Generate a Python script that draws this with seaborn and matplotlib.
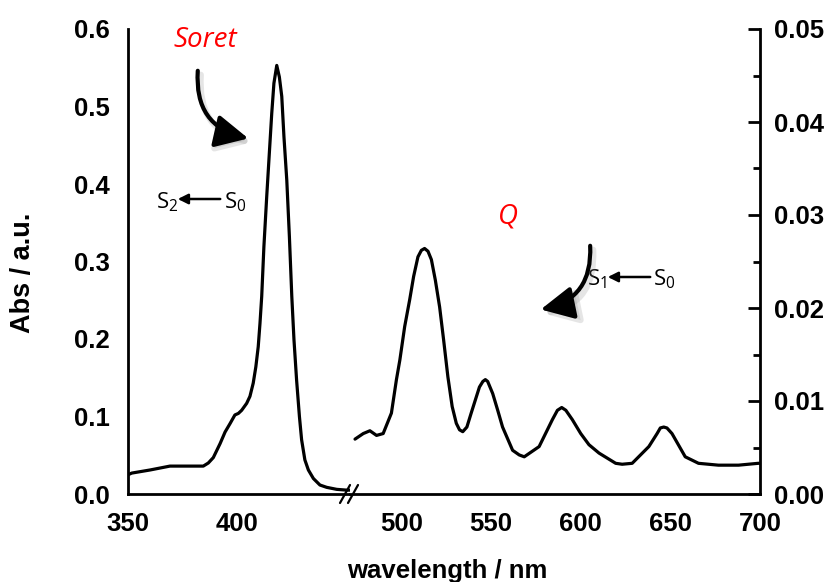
import numpy as np
import pandas as pd
import matplotlib
matplotlib.use("Agg")
import matplotlib.pyplot as plt
import seaborn as sns
from matplotlib.patches import FancyArrowPatch

# ---------------- data ----------------
# Soret region (left axis, Abs)
wl_soret = [350.0, 351.6, 360.0, 369.1, 384.4, 386.7, 389.0, 392.1, 394.4, 396.7,
            398.9, 400.5, 402.0, 404.3, 405.8, 407.3, 408.5, 409.6, 410.4, 411.2,
            412.2, 413.5, 414.7, 415.8, 416.8, 418.1, 419.3, 420.4, 421.4, 422.7,
            423.9, 425.0, 426.0, 427.2, 428.5, 429.5, 431.0, 432.6, 434.9, 437.9,
            441.0, 445.6, 450.2, 451.7]
abs_soret = [0.025, 0.027, 0.031, 0.036, 0.036, 0.040, 0.047, 0.065, 0.080, 0.091,
             0.102, 0.104, 0.108, 0.117, 0.126, 0.143, 0.164, 0.190, 0.220, 0.255,
             0.319, 0.384, 0.440, 0.491, 0.530, 0.553, 0.538, 0.513, 0.461, 0.405,
             0.332, 0.255, 0.199, 0.147, 0.100, 0.070, 0.044, 0.031, 0.020, 0.0116,
             0.0086, 0.006, 0.005, 0.005]

# Q-band region (right axis, Abs)
wl_q = [474.1, 478.7, 482.4, 486.1, 489.8, 494.4, 497.2, 499.1, 501.8, 504.6,
        506.8, 509.2, 511.1, 512.9, 514.8, 516.7, 518.9, 521.3, 523.5, 525.9,
        528.3, 530.6, 532.4, 534.2, 536.5, 538.9, 543.5, 545.4, 546.8, 548.1,
        550.9, 553.7, 556.4, 562.0, 565.7, 568.5, 576.8, 584.2, 587.0, 589.4,
        591.7, 595.3, 600.0, 604.6, 610.2, 619.5, 623.1, 628.7, 638.0, 642.6,
        644.4, 646.3, 648.1, 650.9, 658.3, 665.7, 676.8, 688.0, 699.0, 700.0]
abs_q = [0.0059, 0.0065, 0.0068, 0.0063, 0.0065, 0.0087, 0.0123, 0.0144, 0.0180, 0.0209,
         0.0234, 0.0255, 0.0262, 0.0264, 0.0261, 0.0252, 0.0230, 0.0201, 0.0166, 0.0126,
         0.0094, 0.0076, 0.0069, 0.0067, 0.0072, 0.0087, 0.0115, 0.0121, 0.0123, 0.0121,
         0.0108, 0.0090, 0.0072, 0.0047, 0.0042, 0.0040, 0.0051, 0.0080, 0.0090, 0.0093,
         0.0090, 0.0080, 0.0065, 0.0053, 0.0044, 0.0033, 0.0032, 0.0033, 0.0051, 0.0065,
         0.0071, 0.0072, 0.0071, 0.0065, 0.0040, 0.0033, 0.0031, 0.0031, 0.0033, 0.0033]

left_xticks = [350, 400]
left_xminor = [375, 425]
right_xticks = [500, 550, 600, 650, 700]
right_xminor = [525, 575, 625, 675]
left_yticks = [0.0, 0.1, 0.2, 0.3, 0.4, 0.5, 0.6]
left_yminor = [0.05, 0.15, 0.25, 0.35, 0.45, 0.55]
right_yticks = [0.00, 0.01, 0.02, 0.03, 0.04, 0.05]
right_yminor = [0.005, 0.015, 0.025, 0.035, 0.045]

# ---------------- style ----------------
sns.set_style("white")
plt.rcParams['font.family'] = ['Liberation Sans', 'DejaVu Sans']
plt.rcParams['text.color'] = 'black'
plt.rcParams['xtick.color'] = 'black'
plt.rcParams['ytick.color'] = 'black'
plt.rcParams['axes.labelcolor'] = 'black'
plt.rcParams['mathtext.fontset'] = 'custom'
plt.rcParams['mathtext.rm'] = 'Open Sans'
plt.rcParams['mathtext.it'] = 'Open Sans:italic'

W, H = 829, 582
fig = plt.figure(figsize=(W / 100, H / 100), dpi=100)

x0, xb, x1 = 128.3, 350.0, 760.0
ytop, ybot = 29.0, 494.0
axL = fig.add_axes([x0 / W, 1 - ybot / H, (xb - x0) / W, (ybot - ytop) / H])
axR = fig.add_axes([xb / W, 1 - ybot / H, (x1 - xb) / W, (ybot - ytop) / H])

df_s = pd.DataFrame({"wl": wl_soret, "abs": abs_soret})
df_q = pd.DataFrame({"wl": wl_q, "abs": abs_q})
line_kw = dict(color="black", linewidth=2.3, sort=False, estimator=None,
               solid_joinstyle='round', solid_capstyle='round')
sns.lineplot(data=df_s, x="wl", y="abs", ax=axL, **line_kw)
sns.lineplot(data=df_q, x="wl", y="abs", ax=axR, **line_kw)

axL.set_xlim(350, 451.7)
axL.set_ylim(0, 0.6)
axR.set_xlim(471.3, 700)
axR.set_ylim(0, 0.05)

lw = 2.0
for ax in (axL, axR):
    for s in ax.spines.values():
        s.set_linewidth(lw)
        s.set_color("black")
    ax.set_facecolor("white")
    ax.set_xlabel("")
    ax.set_ylabel("")

axL.spines['top'].set_visible(False)
axL.spines['right'].set_visible(False)
axR.spines['top'].set_visible(False)
axR.spines['left'].set_visible(False)

tick_font = dict(fontsize=18.5, fontweight='bold', color='black')
axL.set_xticks(left_xticks)
axL.set_xticks(left_xminor, minor=True)
axL.set_xticklabels([str(v) for v in left_xticks], **tick_font)
axL.set_yticks(left_yticks)
axL.set_yticks(left_yminor, minor=True)
axL.set_yticklabels([f"{v:.1f}" for v in left_yticks], **tick_font)

axR.set_xticks(right_xticks)
axR.set_xticks(right_xminor, minor=True)
axR.set_xticklabels([str(v) for v in right_xticks], **tick_font)
axR.yaxis.set_ticks_position('right')
axR.set_yticks(right_yticks)
axR.set_yticks(right_yminor, minor=True)
axR.set_yticklabels([f"{v:.2f}" for v in right_yticks], **tick_font)

axL.tick_params(axis='both', which='major', direction='out', length=9, width=lw, pad=4)
axL.tick_params(axis='both', which='minor', direction='out', length=5, width=lw)
axR.tick_params(axis='x', which='major', direction='out', length=9, width=lw, pad=4)
axR.tick_params(axis='x', which='minor', direction='out', length=5, width=lw)
axR.tick_params(axis='y', which='major', direction='in', length=9, width=lw, pad=10,
                left=False, right=True, labelleft=False, labelright=True)
axR.tick_params(axis='y', which='minor', direction='in', length=5, width=lw,
                left=False, right=True)

# axis labels
fig.text(447 / W, 1 - 571 / H, "wavelength / nm", ha='center', va='center',
         fontsize=18.5, fontweight='bold')
fig.text(23 / W, 1 - 273 / H, "Abs / a.u.", ha='center', va='center',
         rotation=90, fontsize=19.5, fontweight='bold')

# axis break marks
for dx in (-5, 3):
    fig.add_artist(plt.Line2D([(xb + dx - 5) / W, (xb + dx + 5) / W],
                              [1 - 503 / H, 1 - 485 / H], color='black', lw=1.6,
                              transform=fig.transFigure))


def fp(x, y):
    return (x, H - y)


# red band labels
fig.text(205 / W, 1 - 40 / H, "Soret", color='red', fontstyle='italic',
         fontsize=20, family='Open Sans', ha='center', va='center')
fig.text(508 / W, 1 - 216 / H, "Q", color='red', fontstyle='italic',
         fontsize=20, family='Open Sans', ha='center', va='center')


def curved_arrow(p0, p1, rad):
    style = "-|>,head_length=20,head_width=10"
    sh = FancyArrowPatch(fp(p0[0] + 3, p0[1] + 4), fp(p1[0] + 3, p1[1] + 4),
                         transform=None, connectionstyle=f"arc3,rad={rad}",
                         arrowstyle=style, mutation_scale=1, lw=4.5,
                         color='0.55', alpha=0.22, zorder=4)
    fig.add_artist(sh)
    ar = FancyArrowPatch(fp(*p0), fp(*p1), transform=None,
                         connectionstyle=f"arc3,rad={rad}",
                         arrowstyle=style, mutation_scale=1, lw=3.0,
                         color='black', zorder=5)
    fig.add_artist(ar)


curved_arrow((198, 68), (251, 139), 0.45)
curved_arrow((590, 243), (538, 310), -0.45)

# transition labels
tr_font = dict(fontsize=16, family='Open Sans', color='black', va='center')
fig.text(156 / W, 1 - 202 / H, "S$_2$", ha='left', **tr_font)
fig.text(224 / W, 1 - 202 / H, "S$_0$", ha='left', **tr_font)
fig.add_artist(FancyArrowPatch(fp(223, 199), fp(175, 199), transform=None,
                               arrowstyle="-|>,head_length=6,head_width=3",
                               lw=1.8, color='black'))

fig.text(587 / W, 1 - 279 / H, "S$_1$", ha='left', **tr_font)
fig.text(653 / W, 1 - 279 / H, "S$_0$", ha='left', **tr_font)
fig.add_artist(FancyArrowPatch(fp(653, 277), fp(605, 277), transform=None,
                               arrowstyle="-|>,head_length=6,head_width=3",
                               lw=1.8, color='black'))

fig.savefig("out.png", dpi=100, facecolor='white')
